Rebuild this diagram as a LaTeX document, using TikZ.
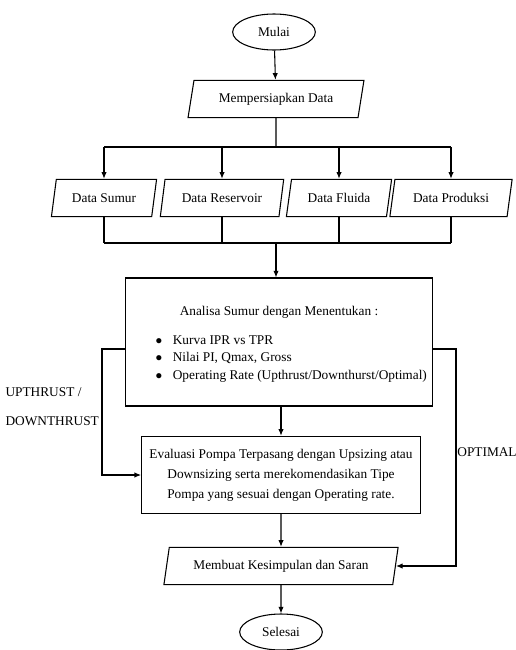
\documentclass[tikz,border=0pt]{standalone}
\usepackage{fontspec}
\setmainfont{Liberation Serif}
\usetikzlibrary{shapes.geometric,arrows.meta}

\begin{document}
\begin{tikzpicture}[x=0.75pt, y=-0.75pt, line width=0.8pt, font=\fontsize{10}{12}\selectfont,
    terminal/.style={draw, ellipse, minimum width=62pt, minimum height=27pt, inner sep=0pt},
    inout/.style={draw, trapezium, trapezium left angle=76, trapezium right angle=104, trapezium stretches=true, minimum height=28pt, inner sep=2pt},
    proses/.style={draw, rectangle, inner sep=0pt},
    arrow/.style={-{Latex[length=5pt,width=4pt]}}]
  \useasboundingbox (0,0) rectangle (516,650);

  % start and first step
  \node[terminal] (mulai) at (274,32) {Mulai};
  \node[inout, minimum width=133pt] (siap) at (276,99) {Mempersiapkan Data};
  \draw[arrow] (mulai) -- (siap);

  % the four data boxes
  \coordinate (busa) at (276,147);
  \coordinate (busb) at (276,243);
  \foreach \name/\x/\w/\txt in {sumur/104/79/Data Sumur, reservoir/222/93/Data Reservoir, fluida/339/79/Data Fluida, produksi/451/92/Data Produksi} {
    \node[inout, minimum width=\w pt] (\name) at (\x,198) {\txt};
    \draw[arrow] (\name.north |- busa) -- (\name.north);
    \draw (\name.south) -- (\name.south |- busb);
  }
  \draw (siap.south) -- (busa);
  \draw (sumur.north |- busa) -- (produksi.north |- busa);
  \draw (sumur.south |- busb) -- (produksi.south |- busb);

  % analysis box
  \node[proses, minimum width=230pt, minimum height=96pt] (analisa) at (279,342) {};
  \draw[arrow] (busb) -- (analisa.north -| busb);
  \node (judul) at (279,312) {Analisa Sumur dengan Menentukan :};
  \foreach \txt [count=\i] in {Kurva IPR vs TPR, {Nilai PI, Qmax, Gross}, Operating Rate (Upthrust/Downthurst/Optimal)} {
    \node[anchor=west, inner sep=0pt] (butir\i) at (155,322+\i*18) {\makebox[13pt][l]{$\bullet$}\txt};
  }

  % evaluation box
  \node[proses, minimum width=209pt, minimum height=58pt, align=center, font=\fontsize{10}{15}\selectfont] (evaluasi) at (281,475)
    {Evaluasi Pompa Terpasang dengan Upsizing atau\\ Downsizing serta merekomendasikan Tipe\\ Pompa yang sesuai dengan Operating rate.};
  \draw[arrow] (analisa.south -| evaluasi) -- (evaluasi.north);

  % conclusion and end
  \node[inout, minimum width=176pt] (membuat) at (281,566) {Membuat Kesimpulan dan Saran};
  \node[terminal] (selesai) at (281,632) {Selesai};
  \draw[arrow] (evaluasi) -- (membuat);
  \draw[arrow] (membuat) -- (selesai);

  % side branches
  \coordinate (kiri) at (102,349);
  \coordinate (kanan) at (456,349);
  \draw[arrow] (analisa.west |- kiri) -- (kiri) |- (evaluasi.west);
  \draw[arrow] (analisa.east |- kanan) -- (kanan) |- (membuat.east);
  \node[anchor=north west, align=left, inner sep=0pt, font=\fontsize{10}{22}\selectfont] (lblup) at (5,387) {UPTHRUST /\\DOWNTHRUST};
  \node (lblopt) at (487,452) {OPTIMAL};
\end{tikzpicture}
\end{document}
